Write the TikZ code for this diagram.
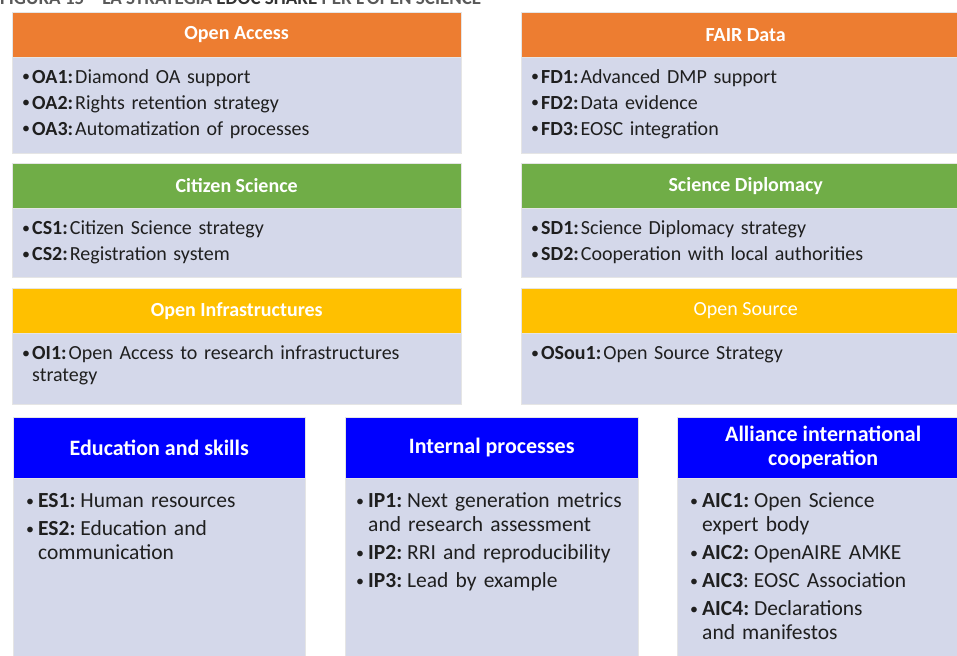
\documentclass[tikz,border=0pt]{standalone}
\usepackage{fontspec}
\setmainfont{Carlito}
\usetikzlibrary{positioning}

\definecolor{osorange}{HTML}{ED7D31}
\definecolor{osgreen}{HTML}{70AD47}
\definecolor{osyellow}{HTML}{FFC000}
\definecolor{osblue}{HTML}{0000FF}
\definecolor{panelbg}{HTML}{D4D8EA}
\definecolor{captgray}{HTML}{595959}

\newlength{\goalgap}
\newlength{\goalbul}
% one bullet line of a panel
\newcommand{\goal}[2]{\hangindent=\goalbul\hangafter=1
  \makebox[\goalbul][l]{\raisebox{1.4pt}{\fontsize{16}{16}\selectfont\textbullet}}%
  \textbf{#1}\hspace{\goalgap}#2\par}

\tikzset{
  hdr/.style={fill=#1, draw=gray!20, text=white, inner sep=0pt, align=center,
    font=\fontsize{20}{23}\selectfont\bfseries},
  bighdr/.style={hdr=#1, font=\fontsize{22}{23.5}\selectfont\bfseries},
  bdy/.style={fill=panelbg, draw=gray!20, inner sep=0pt},
  items/.style={inner sep=0pt, text width=#1, text=black!88,
    font=\fontsize{20}{22.5}\selectfont\frenchspacing\setlength{\parskip}{3.5pt}%
      \setlength{\goalgap}{2pt}\setlength{\goalbul}{10pt}},
  bigitems/.style={items=#1,
    font=\fontsize{21.5}{24}\selectfont\frenchspacing\setlength{\parskip}{4pt}%
      \setlength{\goalgap}{5pt}\setlength{\goalbul}{12pt}},
}

\begin{document}
\begin{tikzpicture}[x=1pt,y=-1pt]
\useasboundingbox (0,0) rectangle (957,655);
\clip (0,0) rectangle (957,655);

\node[anchor=base west, inner sep=0pt, text=captgray, font=\fontsize{19}{21}\selectfont\bfseries] (capt) at (0,4.5)
  {FIGURA 15 -- LA STRATEGIA {\color{black!80}EDOC SHARE} PER L'OPEN SCIENCE};

% first row
\node[hdr=osorange, minimum width=449pt, minimum height=45pt, anchor=north west] (oa) at (12,12) {Open Access};
\node[bdy, minimum width=449pt, minimum height=96pt, below=0pt of oa] (oabody) {};
\node[items=430pt, below right=26pt and 10pt of oabody.north west, anchor=base west] (oatext) {%
  \goal{OA1:}{Diamond OA support}
  \goal{OA2:}{Rights retention strategy}
  \goal{OA3:}{Automatization of processes}};

\node[hdr=osorange, minimum width=449pt, minimum height=45pt, anchor=north west] (fd) at (521,12) {FAIR Data};
\node[bdy, minimum width=449pt, minimum height=96pt, below=0pt of fd] (fdbody) {};
\node[items=430pt, below right=26pt and 10pt of fdbody.north west, anchor=base west] (fdtext) {%
  \goal{FD1:}{Advanced DMP support}
  \goal{FD2:}{Data evidence}
  \goal{FD3:}{EOSC integration}};

% second row
\node[hdr=osgreen, minimum width=449pt, minimum height=45pt, anchor=north west] (cs) at (12,163) {Citizen Science};
\node[bdy, minimum width=449pt, minimum height=69pt, below=0pt of cs] (csbody) {};
\node[items=430pt, below right=26pt and 10pt of csbody.north west, anchor=base west] (cstext) {%
  \goal{CS1:}{Citizen Science strategy}
  \goal{CS2:}{Registration system}};

\node[hdr=osgreen, minimum width=449pt, minimum height=45pt, anchor=north west] (sd) at (521,163) {Science Diplomacy};
\node[bdy, minimum width=449pt, minimum height=69pt, below=0pt of sd] (sdbody) {};
\node[items=430pt, below right=26pt and 10pt of sdbody.north west, anchor=base west] (sdtext) {%
  \goal{SD1:}{Science Diplomacy strategy}
  \goal{SD2:}{Cooperation with local authorities}};

% third row
\node[hdr=osyellow, minimum width=449pt, minimum height=45pt, anchor=north west] (oi) at (12,288) {Open Infrastructures};
\node[bdy, minimum width=449pt, minimum height=71pt, below=0pt of oi] (oibody) {};
\node[items=430pt, below right=26pt and 10pt of oibody.north west, anchor=base west] (oitext) {%
  \goal{OI1:}{Open Access to research infrastructures\newline strategy}};

\node[hdr=osyellow, minimum width=449pt, minimum height=45pt, anchor=north west,
  font=\fontsize{20}{23}\selectfont] (os) at (521,288) {Open Source};
\node[bdy, minimum width=449pt, minimum height=71pt, below=0pt of os] (osbody) {};
\node[items=430pt, below right=26pt and 10pt of osbody.north west, anchor=base west] (ostext) {%
  \goal{OSou1:}{Open Source Strategy}};

% bottom row
\node[bighdr=osblue, minimum width=292pt, minimum height=61pt, anchor=north west] (es) at (13,417) {Education and skills};
\node[bdy, minimum width=292pt, minimum height=190pt, below=0pt of es] (esbody) {};
\node[bigitems=270pt, below right=29pt and 13pt of esbody.north west, anchor=base west] (estext) {%
  \goal{ES1:}{Human resources}
  \goal{ES2:}{Education and\newline communication}};

\node[bighdr=osblue, minimum width=293pt, minimum height=61pt, anchor=north west] (ip) at (345,417) {Internal processes};
\node[bdy, minimum width=293pt, minimum height=190pt, below=0pt of ip] (ipbody) {};
\node[bigitems=275pt, below right=29pt and 11pt of ipbody.north west, anchor=base west] (iptext) {%
  \goal{IP1:}{Next generation metrics\newline and research assessment}
  \goal{IP2:}{RRI and reproducibility}
  \goal{IP3:}{Lead by example}};

\node[bighdr=osblue, minimum width=292pt, minimum height=61pt, anchor=north west] (aic) at (677,417) {Alliance international\\cooperation};
\node[bdy, minimum width=292pt, minimum height=190pt, below=0pt of aic] (aicbody) {};
\node[bigitems=270pt, below right=29pt and 13pt of aicbody.north west, anchor=base west] (aictext) {%
  \goal{AIC1:}{Open Science\newline expert body}
  \goal{AIC2:}{OpenAIRE AMKE}
  \goal{AIC3\mdseries:}{EOSC Association}
  \goal{AIC4:}{Declarations\newline and manifestos}};
\end{tikzpicture}
\end{document}
